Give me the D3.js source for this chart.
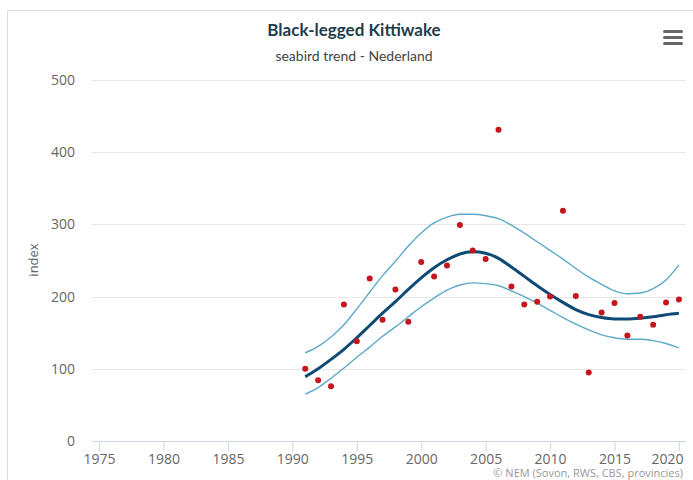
<!DOCTYPE html>
<html>
<head>
<meta charset="utf-8">
<script src="https://cdn.jsdelivr.net/npm/d3@7"></script>
<style>
  body { margin: 0; background: #fff; }
  svg { display: block; font-family: "Open Sans", sans-serif; }
</style>
</head>
<body>
<svg id="chart" width="693" height="480"></svg>
<script>
// years of the series
const years = d3.range(1991, 2021);

// yearly index values (red dots)
const observed = [100, 84, 76, 189, 138, 225, 168, 210, 165, 248,
                  228, 243, 299, 264, 252, 431, 214, 189, 193, 200,
                  319, 201, 95, 178, 191, 146, 172, 161, 192, 196];

// smoothed trend
const trend = [89, 100, 113, 127, 143, 160, 177, 193, 210, 226,
               240, 251, 259, 262, 260, 253, 241, 228, 215, 203,
               192, 182, 175, 171, 169, 169, 170, 172, 175, 177];

// confidence band
const upper = [122, 131, 144, 161, 183, 206, 229, 249, 270, 288,
               302, 310, 314, 314, 312, 308, 299, 288, 276, 264,
               252, 239, 227, 217, 208, 204, 205, 211, 223, 244];
const lower = [65, 74, 87, 101, 116, 130, 145, 158, 172, 186,
               198, 209, 216, 219, 218, 215, 208, 200, 191, 181,
               171, 162, 154, 147, 143, 141, 141, 139, 135, 129];

const yTicks = [0, 100, 200, 300, 400, 500];
const xTicks = [1975, 1980, 1985, 1990, 1995, 2000, 2005, 2010, 2015, 2020];

const svg = d3.select("#chart");

// frame around the chart
svg.append("path")
    .attr("d", "M7.5,480 V10.5 H693")
    .attr("fill", "none")
    .attr("stroke", "#dcdcdc");

const x = d3.scaleLinear().domain([1974.45, 2020.55]).range([92, 686]);
const y = d3.scaleLinear().domain([0, 500]).range([441, 80]);

// grid lines
svg.append("g")
    .selectAll("line")
    .data(yTicks.filter(d => d > 0))
    .join("line")
    .attr("x1", 92).attr("x2", 686)
    .attr("y1", d => Math.round(y(d)) + 0.5)
    .attr("y2", d => Math.round(y(d)) + 0.5)
    .attr("stroke", "#e6e6e6");

// y labels
svg.append("g")
    .selectAll("text")
    .data(yTicks)
    .join("text")
    .attr("x", 75)
    .attr("y", d => y(d) + 5)
    .attr("text-anchor", "end")
    .attr("font-size", 14)
    .attr("fill", "#666")
    .text(d => d);

svg.append("text")
    .attr("transform", "translate(38,260) rotate(-90)")
    .attr("text-anchor", "middle")
    .attr("font-size", 13)
    .attr("fill", "#666")
    .text("index");

// x axis
const xAxis = svg.append("g")
    .attr("transform", `translate(0,${Math.round(y(0)) + 0.5})`)
    .call(d3.axisBottom(x).tickValues(xTicks).tickFormat(d3.format("d")).tickSize(10).tickPadding(3));
xAxis.select(".domain").attr("stroke", "#ccd6eb").attr("d", "M92,0H686");
xAxis.selectAll(".tick line").attr("stroke", "#ccd6eb");
xAxis.selectAll(".tick text")
    .attr("font-size", 14)
    .attr("font-family", "Open Sans, sans-serif")
    .attr("fill", "#666");
// last label is pushed inside the plot edge
xAxis.selectAll(".tick text")
    .filter(d => d === 2020)
    .attr("text-anchor", "end")
    .attr("x", 683 - x(2020));

const line = vals => d3.line()
    .x((d, i) => x(years[i]))
    .y(d => y(d))
    .curve(d3.curveMonotoneX)(vals);

// band lines
[upper, lower].forEach(v => {
    svg.append("path")
        .attr("d", line(v))
        .attr("fill", "none")
        .attr("stroke", "#5ea9c9")
        .attr("stroke-width", 1.4);
});

// trend
svg.append("path")
    .attr("d", line(trend))
    .attr("fill", "none")
    .attr("stroke", "#0e4a74")
    .attr("stroke-width", 3);

// observed dots
svg.append("g")
    .selectAll("circle")
    .data(observed)
    .join("circle")
    .attr("cx", (d, i) => x(years[i]))
    .attr("cy", d => y(d))
    .attr("r", 3)
    .attr("fill", "#c4161c");

// title + subtitle
svg.append("text")
    .attr("x", 354).attr("y", 36)
    .attr("text-anchor", "middle")
    .attr("font-family", "Lato, sans-serif")
    .attr("font-weight", "bold")
    .attr("font-size", 17)
    .attr("fill", "#1d3d4b")
    .text("Black-legged Kittiwake");

svg.append("text")
    .attr("x", 354).attr("y", 61)
    .attr("text-anchor", "middle")
    .attr("font-family", "Lato, sans-serif")
    .attr("font-size", 14)
    .attr("fill", "#444")
    .text("seabird trend - Nederland");

// menu icon
svg.append("g")
    .selectAll("rect")
    .data([0, 1, 2])
    .join("rect")
    .attr("x", 663).attr("y", d => 30 + d * 6)
    .attr("width", 20).attr("height", 3)
    .attr("rx", 1.5)
    .attr("fill", "#666");

// credits
svg.append("text")
    .attr("x", 683).attr("y", 477)
    .attr("text-anchor", "end")
    .attr("font-size", 11)
    .attr("fill", "#999")
    .text("© NEM (Sovon, RWS, CBS, provincies)");
</script>
</body>
</html>
